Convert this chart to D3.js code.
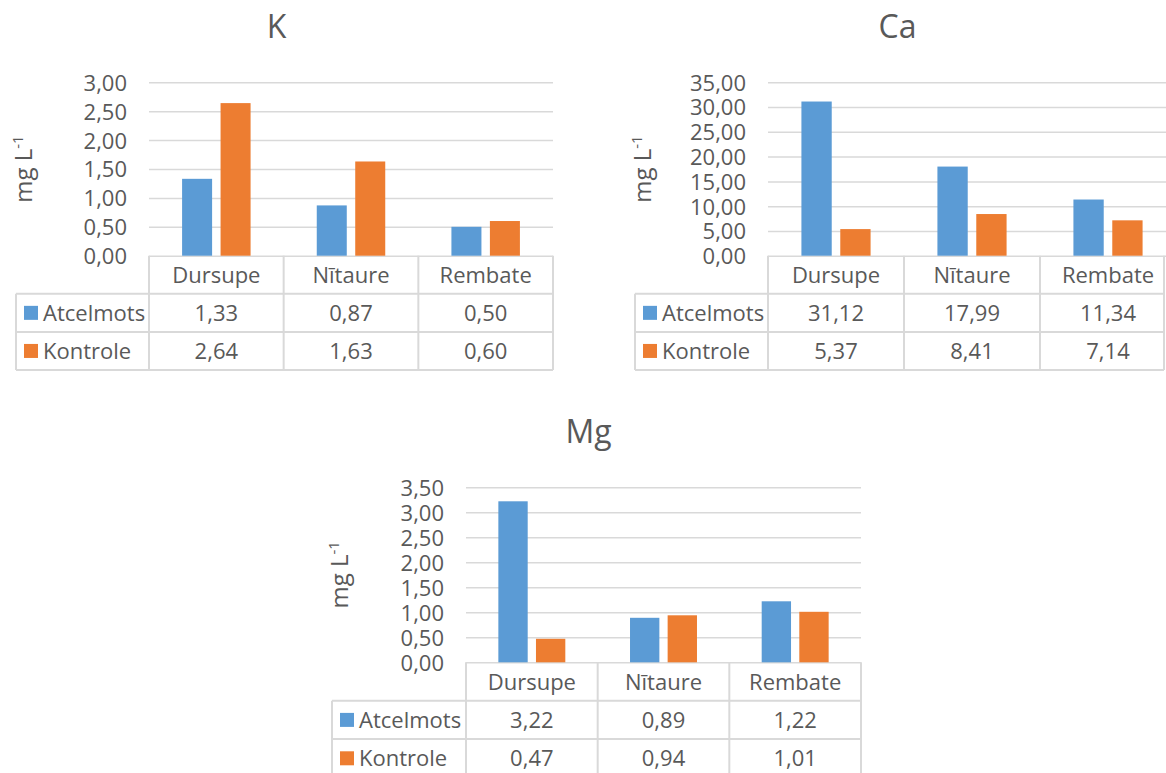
<!DOCTYPE html>
<html lang="lv">

<head>
    <meta charset="utf-8">
    <title>K, Ca, Mg</title>
    <script type="text/javascript" src="https://d3js.org/d3.v7.min.js"></script>
    <style type="text/css">
        body { margin: 0; background: #fff; }
        svg { display: block; font-family: "Open Sans", sans-serif; }
    </style>
</head>

<body>
    <script type="text/javascript">
        //Data
        const categories = ['Dursupe', 'Nītaure', 'Rembate'];
        const series = ['Atcelmots', 'Kontrole'];

        const kAtcelmots = [1.33, 0.87, 0.50];
        const kKontrole = [2.64, 1.63, 0.60];
        const caAtcelmots = [31.12, 17.99, 11.34];
        const caKontrole = [5.37, 8.41, 7.14];
        const mgAtcelmots = [3.22, 0.89, 1.22];
        const mgKontrole = [0.47, 0.94, 1.01];

        const kTicks = [0, 0.5, 1, 1.5, 2, 2.5, 3];
        const caTicks = [0, 5, 10, 15, 20, 25, 30, 35];
        const mgTicks = [0, 0.5, 1, 1.5, 2, 2.5, 3, 3.5];

        //Excel style colours
        const colors = { 'Atcelmots': '#5B9BD5', 'Kontrole': '#ED7D31' };
        const textColor = '#595959';
        const lineColor = '#D9D9D9';
        const fontSize = 22;

        //Latvian number format, decimal comma
        const fmt = d3.formatLocale({ decimal: ',', thousands: ' ', grouping: [3], currency: ['', ''] }).format('.2f');

        //Panel layout (positions only), values come from the arrays above
        const panels = [
            { title: 'K', values: [kAtcelmots, kKontrole], ticks: kTicks,
              left: 149, right: 553, edge: 553, top: 82.3, bottom: 255.7, tableLeft: 16, titleX: 276.5, titleY: 38, rowH: 38.1 },
            { title: 'Ca', values: [caAtcelmots, caKontrole], ticks: caTicks,
              left: 768, right: 1176, edge: 1164, top: 82.3, bottom: 255.7, tableLeft: 635, titleX: 897.5, titleY: 37.5, rowH: 38.1 },
            { title: 'Mg', values: [mgAtcelmots, mgKontrole], ticks: mgTicks,
              left: 466, right: 861, edge: 861, top: 487.3, bottom: 662.3, tableLeft: 332, titleX: 588.5, titleY: 443, rowH: 38.4 }
        ];

        const svg = d3.select('body')
            .append('svg')
            .attr('width', 1166)
            .attr('height', 773)

        panels.forEach((p) => {
            const g = svg.append('g').attr('class', 'panel')

            const xScale = d3.scaleBand()
                .domain(categories)
                .range([p.left, p.right])

            const xInner = d3.scaleBand()
                .domain(series)
                .range([0, xScale.bandwidth()])
                .paddingInner(0.22)
                .paddingOuter(0.86)

            const yScale = d3.scaleLinear()
                .domain(d3.extent(p.ticks))
                .range([p.bottom, p.top])

            //Gridlines and tick labels
            const leftAxis = d3.axisLeft(yScale)
                .tickValues(p.ticks)
                .tickSize(-(p.right - p.left))
                .tickPadding(22)
                .tickFormat(fmt)

            const axisG = g.append('g')
                .attr('transform', 'translate(' + p.left + ',0)')
                .call(leftAxis)
            axisG.select('.domain').remove()
            axisG.selectAll('line').attr('stroke', lineColor).attr('stroke-width', 1.5)
            axisG.selectAll('text')
                .attr('fill', textColor)
                .attr('font-size', fontSize)
                .attr('font-family', '"Open Sans", sans-serif')
                .attr('dy', '0.36em')

            //Bars
            series.forEach((s, si) => {
                g.append('g')
                    .selectAll('rect')
                    .data(p.values[si])
                    .enter()
                    .append('rect')
                    .attr('x', (d, i) => xScale(categories[i]) + xInner(s))
                    .attr('width', xInner.bandwidth())
                    .attr('y', d => yScale(d))
                    .attr('height', d => yScale(0) - yScale(d))
                    .attr('fill', colors[s])
            })

            //Data table under the plot
            const rh = p.rowH;
            const t0 = p.bottom;
            const table = g.append('g').attr('class', 'table')

            const hLines = [t0 + rh, t0 + 2 * rh, t0 + 3 * rh];
            table.selectAll('.hline')
                .data(hLines)
                .enter()
                .append('line')
                .attr('x1', p.tableLeft).attr('x2', p.edge)
                .attr('y1', d => d).attr('y2', d => d)
                .attr('stroke', lineColor).attr('stroke-width', 2)

            const vLines = categories.map(c => xScale(c)).concat([p.edge]);
            table.selectAll('.vline')
                .data(vLines)
                .enter()
                .append('line')
                .attr('x1', d => d).attr('x2', d => d)
                .attr('y1', t0).attr('y2', t0 + 3 * rh)
                .attr('stroke', lineColor).attr('stroke-width', 2)

            table.append('line')
                .attr('x1', p.tableLeft).attr('x2', p.tableLeft)
                .attr('y1', t0 + rh).attr('y2', t0 + 3 * rh)
                .attr('stroke', lineColor).attr('stroke-width', 2)

            //Category header
            table.selectAll('.cat')
                .data(categories)
                .enter()
                .append('text')
                .attr('x', d => xScale(d) + xScale.bandwidth() / 2)
                .attr('y', t0 + rh / 2 + 8)
                .attr('text-anchor', 'middle')
                .attr('fill', textColor)
                .attr('font-size', fontSize)
                .text(d => d)

            //Series rows
            series.forEach((s, si) => {
                const cy = t0 + rh * (si + 1) + rh / 2;
                table.append('rect')
                    .attr('x', p.tableLeft + 8)
                    .attr('y', cy - 7)
                    .attr('width', 14)
                    .attr('height', 14)
                    .attr('fill', colors[s])
                table.append('text')
                    .attr('x', p.tableLeft + 27)
                    .attr('y', cy + 8)
                    .attr('fill', textColor)
                    .attr('font-size', fontSize)
                    .text(s)
                table.selectAll('.val' + si)
                    .data(p.values[si])
                    .enter()
                    .append('text')
                    .attr('x', (d, i) => xScale(categories[i]) + xScale.bandwidth() / 2)
                    .attr('y', cy + 8)
                    .attr('text-anchor', 'middle')
                    .attr('fill', textColor)
                    .attr('font-size', fontSize)
                    .text(d => fmt(d))
            })

            //Y axis label
            const yLabel = g.append('text')
                .attr('transform', 'translate(' + (p.tableLeft + 16) + ',' + ((p.top + p.bottom) / 2) + ') rotate(-90)')
                .attr('text-anchor', 'middle')
                .attr('fill', textColor)
                .attr('font-size', 24)
            yLabel.append('tspan').text('mg L')
            yLabel.append('tspan').attr('dy', -9).attr('font-size', 15).text('-1')

            //Title
            g.append('text')
                .attr('x', p.titleX)
                .attr('y', p.titleY)
                .attr('text-anchor', 'middle')
                .attr('fill', textColor)
                .attr('font-size', 32)
                .text(p.title)
        })
    </script>
</body>

</html>
